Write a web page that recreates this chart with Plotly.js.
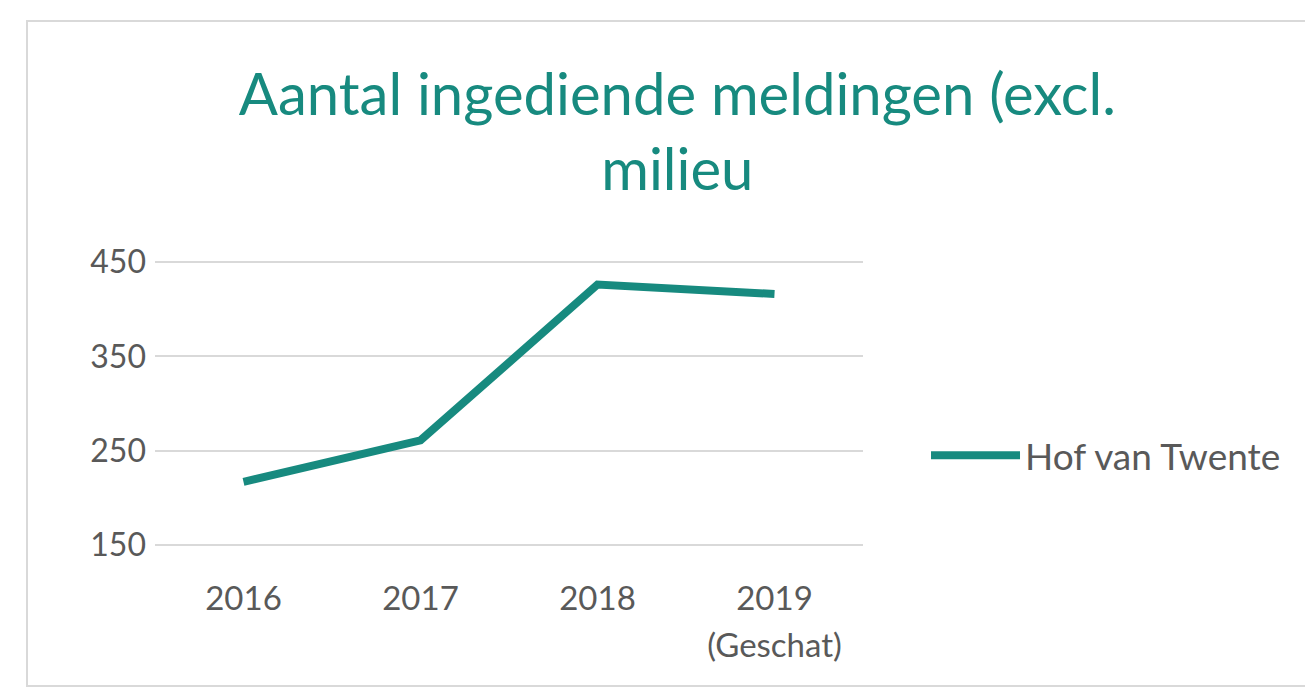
<!DOCTYPE html>
<html><head><meta charset="utf-8">
<script src="https://cdn.plot.ly/plotly-3.0.1.min.js"></script>
<style>html,body{margin:0;padding:0;background:#fff;}#chart{width:1305px;height:689px;}</style>
</head><body><div id="chart"></div>
<script>
const categories = ["2016", "2017", "2018", "2019<br>(Geschat)"];
const values = [217, 261, 426, 416];
const seriesName = "Hof van Twente";
const yTicks = [150, 250, 350, 450];
const titleLines = ["Aantal ingediende meldingen (excl.", "milieu"];

const teal = "#178a7f";
const gray = "#595959";
const font = "Lato, 'Open Sans', sans-serif";

const trace = {
  x: categories, y: values, type: "scatter", mode: "lines", name: seriesName,
  line: {color: teal, width: 8}
};

const layout = {
  width: 1305, height: 689,
  margin: {l: 155, r: 442, t: 260, b: 142},
  paper_bgcolor: "#fff", plot_bgcolor: "#fff",
  font: {family: font, color: gray},
  title: {
    text: titleLines.join("<br>"),
    font: {family: font, size: 58, color: teal},
    x: 0.519, xanchor: "center", xref: "container",
    y: 1 - 115/689, yanchor: "top", yref: "container"
  },
  xaxis: {
    type: "category", range: [-0.5, 3.5], showgrid: false, zeroline: false, showline: false,
    tickvals: categories,
    ticktext: categories.map(c => c.split("<br>").map(s => '<span style="font-size:33px">' + s + '</span>').join("<br>")),
    ticks: "", tickfont: {size: 36, color: gray, family: font}, ticklabelstandoff: 26
  },
  yaxis: {
    range: [148, 452], tickvals: yTicks, ticktext: yTicks.map(String),
    showgrid: true, gridcolor: "#d9d9d9", gridwidth: 2, zeroline: false, showline: false,
    ticks: "", tickfont: {size: 32, color: gray, family: font}, ticklabelstandoff: 8
  },
  showlegend: true,
  legend: {
    x: 1.089, xanchor: "left", y: 0.318, yanchor: "middle",
    font: {size: 37, color: gray, family: font}, itemwidth: 89, bgcolor: "rgba(0,0,0,0)"
  },
  shapes: [{
    type: "rect", xref: "paper", yref: "paper",
    x0: (27-155)/708, x1: (1330-155)/708, y0: (547-686)/287, y1: (547-21)/287,
    line: {color: "#d9d9d9", width: 2}, fillcolor: "rgba(0,0,0,0)"
  }]
};

Plotly.newPlot("chart", [trace], layout, {displayModeBar: false, staticPlot: true});
</script></body></html>
